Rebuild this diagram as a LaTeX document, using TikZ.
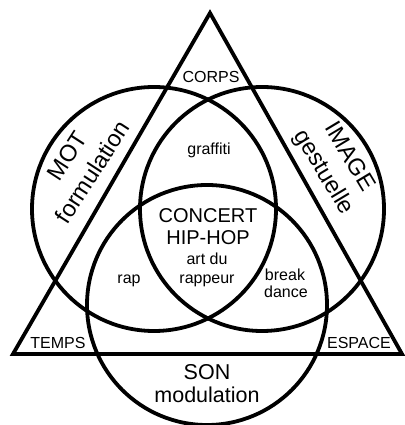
\documentclass[tikz,border=0pt]{standalone}
\usepackage{fontspec}
\setmainfont{Liberation Sans}
\begin{document}
\begin{tikzpicture}[x=1pt,y=1pt,
  shape line/.style={draw=black,line width=3.8pt,line join=miter},
  lbl/.style={inner sep=0pt,anchor=base,font=\fontsize{16}{18}\selectfont},
  mid/.style={inner sep=0pt,anchor=base,font=\fontsize{16}{18}\selectfont},
  big/.style={inner sep=0pt,anchor=center,align=center,font=\fontsize{23.5}{30}\selectfont},
  son/.style={inner sep=0pt,anchor=base,font=\fontsize{21.5}{24}\selectfont},
  core/.style={inner sep=0pt,anchor=base,font=\fontsize{20}{22}\selectfont}]
\useasboundingbox (0,0) rectangle (404,425);
% triangle
\coordinate (apex) at (210,412);
\coordinate (bl) at (13,71);
\coordinate (br) at (402,71);
\draw[shape line] (apex) -- (bl) -- (br) -- cycle;
% circles
\coordinate (cl) at (154,216);
\coordinate (cr) at (262,216);
\coordinate (cb) at (207,120);
\draw[shape line] (cl) circle (122);
\draw[shape line] (cr) circle (122);
\draw[shape line] (cb) circle (120);
% corner labels
\node[lbl] (corps) at (211,342.5) {CORPS};
\node[lbl] (temps) at (58,76.5) {TEMPS};
\node[lbl] (espace) at (359,76.5) {ESPACE};
% circle labels
\node[big,rotate=57] (mot) at (80,261) {MOT\\formulation};
\node[big,rotate=-59] (image) at (336,260) {IMAGE\\gestuelle};
\node[son] (son) at (207,45) {SON};
\node[son] (modul) at (207,22) {modulation};
% intersections
\node[lbl] (graf) at (209,270) {graffiti};
\node[lbl] (rap) at (129,141) {rap};
\node[lbl] (break) at (285,144) {break};
\node[lbl] (dance) at (286,127) {dance};
\node[core] (concert) at (208,202) {CONCERT};
\node[core] (hiphop) at (208,180) {HIP-HOP};
\node[mid] (artdu) at (207,160) {art du};
\node[mid] (rappeur) at (207,141) {rappeur};
\end{tikzpicture}
\end{document}
